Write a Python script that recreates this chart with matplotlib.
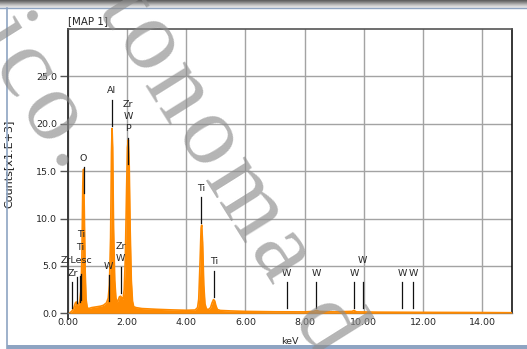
import numpy as np
import matplotlib
matplotlib.use("Agg")
import matplotlib.pyplot as plt
from matplotlib.lines import Line2D
from matplotlib.patches import Rectangle
from matplotlib.font_manager import FontProperties
from matplotlib.textpath import text_to_path

# EDS spectrum, counts in thousands vs energy in keV
energy = [0.05, 0.10, 0.15, 0.20, 0.25, 0.28, 0.32, 0.36, 0.40, 0.44, 0.47,
          0.50, 0.525, 0.55, 0.58, 0.61, 0.65, 0.70, 0.80, 0.90, 1.00, 1.10,
          1.20, 1.30, 1.36, 1.40, 1.44, 1.47, 1.49, 1.51, 1.54, 1.58, 1.62,
          1.66, 1.70, 1.74, 1.78, 1.82, 1.86, 1.90, 1.94, 1.98, 2.01, 2.04,
          2.07, 2.10, 2.14, 2.18, 2.22, 2.30, 2.50, 3.00, 3.50, 4.00, 4.30,
          4.38, 4.42, 4.46, 4.50, 4.52, 4.55, 4.59, 4.63, 4.68, 4.75, 4.82,
          4.87, 4.92, 4.96, 5.00, 5.05, 5.15, 5.50, 6.00, 7.00, 8.00, 8.30,
          8.40, 8.50, 9.00, 9.60, 9.67, 9.75, 10.50, 12.00, 14.00, 15.00]
counts = [0.0, 0.15, 0.3, 0.6, 1.1, 1.2, 0.9, 0.9, 1.3, 2.5, 6.0,
          13.5, 15.2, 11.0, 4.5, 1.5, 0.6, 0.5, 0.6, 0.65, 0.7, 0.75,
          0.85, 1.1, 1.6, 3.0, 8.0, 17.0, 19.5, 17.5, 9.0, 3.5, 1.6,
          1.2, 1.4, 1.75, 1.8, 1.6, 1.5, 2.5, 6.0, 13.0, 17.5, 18.3,
          15.5, 9.0, 3.5, 1.3, 0.7, 0.6, 0.5, 0.42, 0.36, 0.32, 0.35,
          0.6, 1.5, 5.0, 9.0, 9.3, 7.5, 3.0, 1.0, 0.45, 0.4, 0.6,
          1.1, 1.45, 1.3, 0.8, 0.4, 0.3, 0.25, 0.2, 0.16, 0.15, 0.2,
          0.3, 0.2, 0.15, 0.2, 0.3, 0.15, 0.12, 0.1, 0.08, 0.06]

# identified lines: energy, label, bottom of the marker (kcounts)
line_kev = [0.15, 0.30, 0.395, 0.452, 0.525, 1.38, 1.486, 1.775, 2.04,
            4.51, 4.93, 7.39, 8.40, 9.67, 9.96, 11.29, 11.68]
line_label = ["Zr", "ZrLesc", "Ti", "Ti", "O", "W", "Al", "Zr\nW", "Zr\nW\nP",
              "Ti", "Ti", "W", "W", "W", "W", "W", "W"]
line_base = [0.55, 1.1, 1.2, 1.4, 12.7, 1.3, 19.8, 2.1, 15.8,
             9.5, 1.75, 0.56, 0.56, 0.56, 0.56, 0.56, 0.56]

x_ticks = [0, 2, 4, 6, 8, 10, 12, 14]
y_ticks = [0, 5, 10, 15, 20, 25]

W, H = 527, 349
orange = "#ff8a00"
grid_c = "#a3a3a3"
txt_c = "#262626"

plt.rcParams["font.family"] = ["DejaVu Sans"]

fig = plt.figure(figsize=(W / 100, H / 100), dpi=100)


def fx(px):
    return px / W


def fy(py):
    return 1 - py / H


# window frame ----------------------------------------------------------
bar = fig.add_axes([0, fy(8), 1, 8 / H])
bar.imshow(np.linspace(0, 1, 16).reshape(-1, 1), cmap="Greys_r", vmin=-0.5,
           vmax=1.25, aspect="auto", extent=[0, 1, 0, 1])
bar.set_axis_off()
fig.add_artist(Line2D([0, 1], [fy(7.5)] * 2, color="#8ea4c2", lw=1.0))
fig.add_artist(Line2D([fx(7), fx(7)], [fy(8), 0], color="#8ea4c2", lw=1.2))
fig.add_artist(Rectangle((fx(7), 0), 1, 4 / H, color="#8ea4c2", lw=0))

# spectrum axes ---------------------------------------------------------
ax = fig.add_axes([fx(68), fy(313.3), fx(511.7) - fx(68), fy(29) - fy(313.3)])
ax.set_xlim(0, 15)
ax.set_ylim(0, 30)

ax.set_xticks(x_ticks)
ax.set_xticklabels([f"{v:.2f}" for v in x_ticks])
ax.set_yticks(y_ticks)
ax.set_yticklabels([f"{v:.1f}" for v in y_ticks])
ax.tick_params(axis="x", length=0, pad=3.5, labelsize=6.8, labelcolor=txt_c)
ax.tick_params(axis="y", length=6, width=1.0, color="#555555", pad=2,
               labelsize=6.8, labelcolor=txt_c)
ax.grid(True, color=grid_c, lw=1.0)
ax.set_axisbelow(True)

ax.spines["left"].set_color("#3a3a3a")
ax.spines["left"].set_linewidth(1.4)
ax.spines["top"].set_color("#555555")
ax.spines["top"].set_linewidth(1.2)
ax.spines["right"].set_color("#000000")
ax.spines["right"].set_linewidth(1.1)
ax.spines["bottom"].set_color("#777777")
ax.spines["bottom"].set_linewidth(1.0)
ax.plot([0, 0], [0, -0.6], color="#3a3a3a", lw=1.4, clip_on=False)

ax.fill_between(energy, counts, color=orange, lw=0, zorder=3)
ax.plot(energy, counts, color=orange, lw=1.2, zorder=3)

ax.set_xlabel("keV", fontsize=6.8, color=txt_c)
ax.xaxis.set_label_coords(0.5, -0.082)
ax.set_ylabel("Counts[x1.E+3]", fontsize=8, color="#1a1a1a")
ax.yaxis.set_label_coords(-0.124, 0.525)
ax.text(0, 30.35, "[MAP 1]", fontsize=7.4, color=txt_c, ha="left", va="bottom")

# line markers with stacked labels
mark_len = 2.75
row_h = 1.35
gap = 0.45
placed = []
for kev, lab, base in zip(line_kev, line_label, line_base):
    top = base + mark_len
    ax.plot([kev, kev], [base, top], color="#111111", lw=0.9, zorder=4)
    n_rows = lab.count("\n") + 1
    half = 0.075 * max(len(s) for s in lab.split("\n")) + 0.08
    y0 = top + gap
    moved = True
    while moved:
        moved = False
        for (a, b, c, d) in placed:
            if kev - half < b and kev + half > a and y0 < d and y0 + n_rows * row_h > c:
                y0 = d
                moved = True
    placed.append((kev - half, kev + half, y0, y0 + n_rows * row_h))
    ax.text(kev, y0, lab, ha="center", va="bottom", fontsize=6.8,
            color=txt_c, linespacing=1.42, zorder=5)

# watermark, set letter by letter along a slanted baseline
wm_font = FontProperties(family=["Liberation Serif", "DejaVu Serif"], size=72)
wm_angle = 58
wm_track = 6  # extra px between letters


def watermark(x0, y0, s):
    d = np.array([np.cos(np.radians(wm_angle)), np.sin(np.radians(wm_angle))])
    pos = 0.0
    for ch in s:
        px, py = np.array([x0, y0]) + pos * d
        fig.text(fx(px), fy(py), ch, fontproperties=wm_font, color="#8c8c8c",
                 alpha=0.65, rotation=-wm_angle, rotation_mode="anchor",
                 ha="left", va="baseline", zorder=10)
        w = text_to_path.get_text_width_height_descent(ch, wm_font, ismath=False)[0]
        pos += w * 100 / 72 + wm_track


watermark(96, 8.4, "tonoma d")
watermark(-27.5, 37.2, "ico.")

fig.savefig("out.png", dpi=100)
